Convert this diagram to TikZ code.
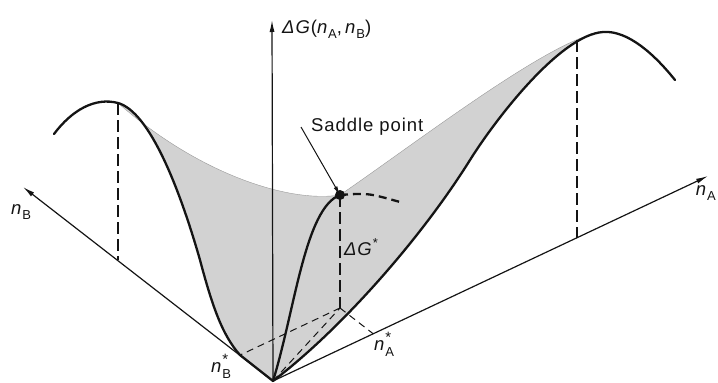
\documentclass[tikz,border=0pt]{standalone}
\usepackage{fontspec}
\setmainfont{Liberation Sans}[LetterSpace=5]
\usetikzlibrary{arrows.meta,calc}
\definecolor{surf}{HTML}{D2D2D2}
\definecolor{rim}{HTML}{9A9A9A}
\definecolor{ink}{HTML}{141414}
\newcommand{\nsub}[1]{\textit{n}\raisebox{-0.5ex}{\fontsize{13}{13}\selectfont #1}}
\newcommand{\nstar}[1]{\textit{n}\rlap{\raisebox{0.8ex}{\fontsize{15}{15}\selectfont *}}\raisebox{-0.6ex}{\fontsize{13}{13}\selectfont #1}}

\begin{document}
\begin{tikzpicture}[x=1pt,y=-1pt,
  axis/.style={draw=ink,line width=1.2pt,-{Latex[length=12pt,width=5pt]}},
  curve/.style={draw=ink,line width=2.3pt,line cap=round,line join=round},
  drop/.style={draw=ink,line width=1.1pt,dash pattern=on 12pt off 5pt},
  base/.style={draw=ink,line width=1pt,dash pattern=on 7pt off 5pt},
  pointer/.style={draw=ink,line width=1pt,-{Latex[length=9pt,width=4pt]}},
  lbl/.style={text=ink,font=\fontsize{18.5}{22}\selectfont,inner sep=1pt}]
\useasboundingbox (0,0) rectangle (718,383);

% axes and plane points
\coordinate (O) at (273,381);
\coordinate (tipG) at (272,20);
\coordinate (tipA) at (708,176);
\coordinate (tipB) at (23,187);
\coordinate (nAs) at ($(O)!0.2304!(tipA)$);
\coordinate (nBs) at ($(O)!0.1329!(tipB)$);
\coordinate (P) at ($(nAs)+(nBs)-(O)$);
\coordinate (sp) at (P |- 0,195);
\coordinate (pkB) at (118,103);
\coordinate (footB) at (118,260);
\coordinate (pkA) at (577,40);
\coordinate (footA) at (577,238);
\coordinate (topA) at (603,32);
\coordinate (midA) at (470,160);
\coordinate (midB) at (200,260);
\coordinate (lowB) at (240,355);
\coordinate (ridge) at (400,202);

% shaded surface
\fill[surf] (pkB) .. controls (150,112) and (180,190) .. (midB)
  .. controls (212,305) and (222,335) .. (lowB) -- (O)
  .. controls (340,330) and (420,240) .. (midA)
  .. controls (495,120) and (560,35) .. (topA)
  .. controls (555,36) and (420,140) .. (sp)
  .. controls (290,203) and (200,175) .. (pkB) -- cycle;
\draw[rim,line width=0.4pt] (topA) .. controls (555,36) and (420,140) .. (sp)
  .. controls (290,203) and (200,175) .. (pkB);

\draw[axis] (O) -- (tipG);
\draw[axis] (O) -- (tipA);
\draw[axis] (O) -- (tipB);

% dashed drops
\draw[drop] (pkB) -- (footB);
\draw[drop] (pkA) -- (footA);
\draw[drop] (sp) -- (P);
\draw[base] (P) -- (nAs);
\draw[base] (P) -- (nBs);
\draw[base] (O) -- (P);

% profiles
\draw[curve] (54,134) .. controls (72,110) and (95,97) .. (pkB)
  .. controls (150,112) and (180,190) .. (midB)
  .. controls (212,305) and (222,335) .. (lowB) -- (O);
\draw[curve] (O) .. controls (340,330) and (420,240) .. (midA)
  .. controls (495,120) and (560,35) .. (topA)
  .. controls (628,30) and (655,55) .. (675,80);
\draw[curve] (O) .. controls (295,310) and (305,208) .. (sp);
\draw[curve,line cap=butt,dash pattern=on 8pt off 5pt] (sp) .. controls (368,193) .. (ridge);
\fill[ink] (sp) circle (5pt);

% labels
\node[lbl,anchor=west] (dG) at (281,29) {\textit{ΔG}(\nsub{A},\,\nsub{B})};
\node[lbl,anchor=west,inner xsep=10pt] (saddle) at (301,127) {Saddle point};
\draw[pointer] (saddle.west) -- (sp);
\node[lbl] (dGs) at (361,247) {\textit{ΔG}\raisebox{0.8ex}{\fontsize{13}{13}\selectfont *}};
\node[lbl] (nAlbl) at (384,344) {\nstar{A}};
\node[lbl] (nBlbl) at (221,366) {\nstar{B}};
\node[lbl] (nBax) at (21,212) {\nsub{B}};
\node[lbl,anchor=east] (nAax) at (717,193) {\nsub{A}};
\end{tikzpicture}
\end{document}
